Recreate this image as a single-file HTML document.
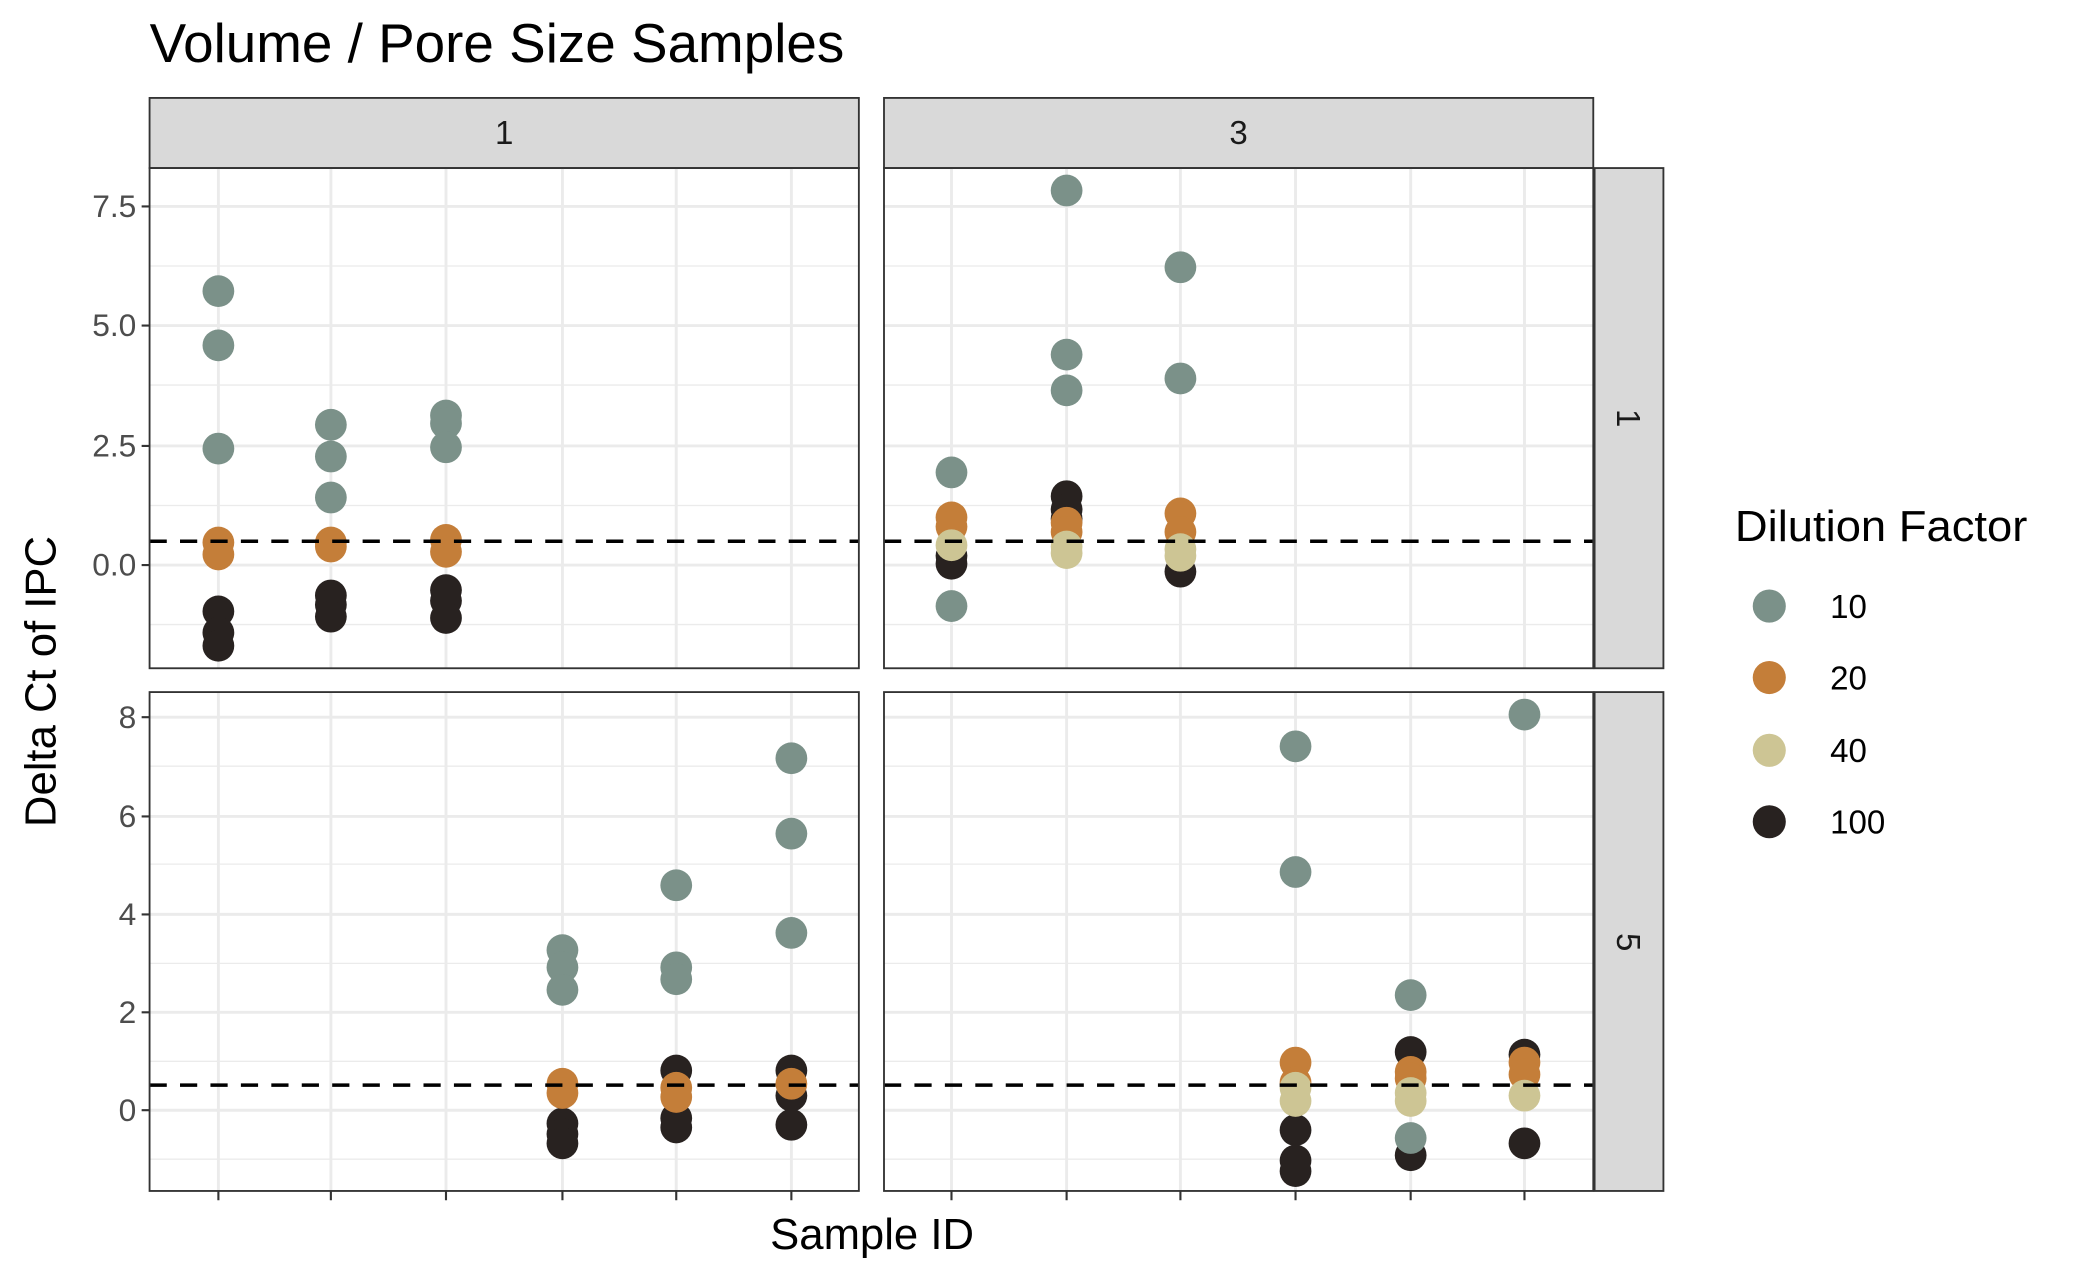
<!DOCTYPE html>
<html><head><meta charset="utf-8"><style>
html,body{margin:0;padding:0;background:#fff;}
svg{display:block;font-family:"Liberation Sans",Arial,sans-serif;}
</style></head><body>
<svg width="2075" height="1282" viewBox="0 0 1568 968.8" xmlns="http://www.w3.org/2000/svg">
<rect width="1568" height="969" fill="#fff"/>
<text x="113" y="47" font-size="41" fill="#000" textLength="525" lengthAdjust="spacingAndGlyphs">Volume / Pore Size Samples</text>

<!-- strips -->
<rect x="113" y="74" width="536" height="53" fill="#d9d9d9" stroke="#333" stroke-width="1.4"/>
<rect x="668" y="74" width="536" height="53" fill="#d9d9d9" stroke="#333" stroke-width="1.4"/>
<text x="381" y="109" font-size="25" text-anchor="middle" fill="#1a1a1a">1</text>
<text x="936" y="109" font-size="25" text-anchor="middle" fill="#1a1a1a">3</text>
<rect x="1205" y="127" width="52" height="378" fill="#d9d9d9" stroke="#333" stroke-width="1.4"/>
<rect x="1205" y="523" width="52" height="377" fill="#d9d9d9" stroke="#333" stroke-width="1.4"/>
<text transform="translate(1222,316) rotate(90)" font-size="25" text-anchor="middle" fill="#1a1a1a">1</text>
<text transform="translate(1222,712) rotate(90)" font-size="25" text-anchor="middle" fill="#1a1a1a">5</text>

<!-- grid -->
<g stroke="#ebebeb">
<g stroke-width="1">
<line x1="113" x2="649" y1="472" y2="472"/><line x1="113" x2="649" y1="382" y2="382"/><line x1="113" x2="649" y1="291" y2="291"/><line x1="113" x2="649" y1="201" y2="201"/>
<line x1="668" x2="1204" y1="472" y2="472"/><line x1="668" x2="1204" y1="382" y2="382"/><line x1="668" x2="1204" y1="291" y2="291"/><line x1="668" x2="1204" y1="201" y2="201"/>
<line x1="113" x2="649" y1="876" y2="876"/><line x1="113" x2="649" y1="802" y2="802"/><line x1="113" x2="649" y1="728" y2="728"/><line x1="113" x2="649" y1="653" y2="653"/><line x1="113" x2="649" y1="579" y2="579"/>
<line x1="668" x2="1204" y1="876" y2="876"/><line x1="668" x2="1204" y1="802" y2="802"/><line x1="668" x2="1204" y1="728" y2="728"/><line x1="668" x2="1204" y1="653" y2="653"/><line x1="668" x2="1204" y1="579" y2="579"/>
</g>
<g stroke-width="2.2">
<line x1="113" x2="649" y1="156" y2="156"/><line x1="113" x2="649" y1="246" y2="246"/><line x1="113" x2="649" y1="337" y2="337"/><line x1="113" x2="649" y1="427" y2="427"/>
<line x1="668" x2="1204" y1="156" y2="156"/><line x1="668" x2="1204" y1="246" y2="246"/><line x1="668" x2="1204" y1="337" y2="337"/><line x1="668" x2="1204" y1="427" y2="427"/>
<line x1="113" x2="649" y1="542" y2="542"/><line x1="113" x2="649" y1="617" y2="617"/><line x1="113" x2="649" y1="691" y2="691"/><line x1="113" x2="649" y1="765" y2="765"/><line x1="113" x2="649" y1="839" y2="839"/>
<line x1="668" x2="1204" y1="542" y2="542"/><line x1="668" x2="1204" y1="617" y2="617"/><line x1="668" x2="1204" y1="691" y2="691"/><line x1="668" x2="1204" y1="765" y2="765"/><line x1="668" x2="1204" y1="839" y2="839"/>
<path d="M165 127V505M250 127V505M337 127V505M425 127V505M511 127V505M598 127V505M719 127V505M806 127V505M892 127V505M979 127V505M1066 127V505M1152 127V505"/>
<path d="M165 523V900M250 523V900M337 523V900M425 523V900M511 523V900M598 523V900M719 523V900M806 523V900M892 523V900M979 523V900M1066 523V900M1152 523V900"/>
</g>
</g>

<!-- points -->
<g fill="#7b9189">
<circle cx="165" cy="220" r="12"/><circle cx="165" cy="261" r="12"/><circle cx="165" cy="339" r="12"/>
<circle cx="250" cy="321" r="12"/><circle cx="250" cy="345" r="12"/><circle cx="250" cy="376" r="12"/>
<circle cx="337" cy="314" r="12"/><circle cx="337" cy="320" r="12"/><circle cx="337" cy="338" r="12"/>
<circle cx="719" cy="357" r="12"/><circle cx="719" cy="458" r="12"/>
<circle cx="806" cy="144" r="12"/><circle cx="806" cy="268" r="12"/><circle cx="806" cy="295" r="12"/>
<circle cx="892" cy="202" r="12"/><circle cx="892" cy="286" r="12"/>
<circle cx="425" cy="718" r="12"/><circle cx="425" cy="731" r="12"/><circle cx="425" cy="748" r="12"/>
<circle cx="511" cy="669" r="12"/><circle cx="511" cy="731" r="12"/><circle cx="511" cy="740" r="12"/>
<circle cx="598" cy="573" r="12"/><circle cx="598" cy="630" r="12"/><circle cx="598" cy="705" r="12"/>
<circle cx="979" cy="564" r="12"/><circle cx="979" cy="659" r="12"/>
<circle cx="1066" cy="752" r="12"/>
<circle cx="1152" cy="540" r="12"/>
</g>
<g fill="#282220">
<circle cx="165" cy="462" r="12"/><circle cx="165" cy="478" r="12"/><circle cx="165" cy="488" r="12"/>
<circle cx="250" cy="450" r="12"/><circle cx="250" cy="457" r="12"/><circle cx="250" cy="466" r="12"/>
<circle cx="337" cy="446" r="12"/><circle cx="337" cy="454" r="12"/><circle cx="337" cy="467" r="12"/>
<circle cx="719" cy="420" r="12"/><circle cx="719" cy="426" r="12"/>
<circle cx="806" cy="375" r="12"/><circle cx="806" cy="385" r="12"/><circle cx="806" cy="392" r="12"/>
<circle cx="892" cy="432" r="12"/>
<circle cx="425" cy="849" r="12"/><circle cx="425" cy="857" r="12"/><circle cx="425" cy="864" r="12"/>
<circle cx="511" cy="809" r="12"/><circle cx="511" cy="845" r="12"/><circle cx="511" cy="852" r="12"/>
<circle cx="598" cy="809" r="12"/><circle cx="598" cy="828" r="12"/><circle cx="598" cy="850" r="12"/>
<circle cx="979" cy="854" r="12"/><circle cx="979" cy="877" r="12"/><circle cx="979" cy="885" r="12"/>
<circle cx="1066" cy="795" r="12"/><circle cx="1066" cy="873" r="12"/>
<circle cx="1152" cy="797" r="12"/><circle cx="1152" cy="864" r="12"/>
</g>
<circle cx="1066" cy="860" r="12" fill="#7b9189"/>
<g fill="#c47e39">
<circle cx="165" cy="410" r="12"/><circle cx="165" cy="419" r="12"/>
<circle cx="250" cy="410" r="12"/><circle cx="250" cy="413" r="12"/>
<circle cx="337" cy="408" r="12"/><circle cx="337" cy="417" r="12"/>
<circle cx="719" cy="391" r="12"/><circle cx="719" cy="398" r="12"/>
<circle cx="806" cy="395" r="12"/><circle cx="806" cy="402" r="12"/>
<circle cx="892" cy="388" r="12"/><circle cx="892" cy="402" r="12"/>
<circle cx="425" cy="819" r="12"/><circle cx="425" cy="826" r="12"/>
<circle cx="511" cy="822" r="12"/><circle cx="511" cy="829" r="12"/>
<circle cx="598" cy="819" r="12"/>
<circle cx="979" cy="803" r="12"/><circle cx="979" cy="818" r="12"/>
<circle cx="1066" cy="810" r="12"/><circle cx="1066" cy="815" r="12"/>
<circle cx="1152" cy="803" r="12"/><circle cx="1152" cy="812" r="12"/>
</g>
<g fill="#cdc594">
<circle cx="719" cy="412" r="12"/>
<circle cx="806" cy="413" r="12"/><circle cx="806" cy="418" r="12"/>
<circle cx="892" cy="415" r="12"/><circle cx="892" cy="420" r="12"/>
<circle cx="979" cy="822" r="12"/><circle cx="979" cy="832" r="12"/>
<circle cx="1066" cy="826" r="12"/><circle cx="1066" cy="832" r="12"/>
<circle cx="1152" cy="828" r="12"/>
</g>

<!-- dashed lines -->
<g stroke="#000" stroke-width="2.6" stroke-dasharray="13,10">
<line x1="113" x2="649" y1="409" y2="409"/><line x1="668" x2="1204" y1="409" y2="409"/>
<line x1="113" x2="649" y1="820" y2="820"/><line x1="668" x2="1204" y1="820" y2="820"/>
</g>

<!-- panel borders -->
<g fill="none" stroke="#333" stroke-width="1.4">
<rect x="113" y="127" width="536" height="378"/><rect x="668" y="127" width="536" height="378"/>
<rect x="113" y="523" width="536" height="377"/><rect x="668" y="523" width="536" height="377"/>
</g>

<!-- ticks -->
<g stroke="#333" stroke-width="1.6">
<path d="M107 156H113M107 246H113M107 337H113M107 427H113M107 542H113M107 617H113M107 691H113M107 765H113M107 839H113"/>
<path d="M165 900V907M250 900V907M337 900V907M425 900V907M511 900V907M598 900V907M719 900V907M806 900V907M892 900V907M979 900V907M1066 900V907M1152 900V907"/>
</g>
<g font-size="24" fill="#4d4d4d" text-anchor="end">
<text x="103" y="164">7.5</text><text x="103" y="254">5.0</text><text x="103" y="345">2.5</text><text x="103" y="435">0.0</text>
<text x="103" y="550">8</text><text x="103" y="625">6</text><text x="103" y="699">4</text><text x="103" y="773">2</text><text x="103" y="847">0</text>
</g>

<text x="659" y="944" font-size="33" text-anchor="middle" fill="#000">Sample ID</text>
<text transform="translate(42,515) rotate(-90)" font-size="33" text-anchor="middle" fill="#000">Delta Ct of IPC</text>

<!-- legend -->
<text x="1311" y="409" font-size="33" fill="#000" textLength="221" lengthAdjust="spacingAndGlyphs">Dilution Factor</text>
<circle cx="1337" cy="458" r="12.5" fill="#7b9189"/>
<circle cx="1337" cy="512" r="12.5" fill="#c47e39"/>
<circle cx="1337" cy="567" r="12.5" fill="#cdc594"/>
<circle cx="1337" cy="621" r="12.5" fill="#282220"/>
<g font-size="25" fill="#000">
<text x="1383" y="467">10</text><text x="1383" y="521">20</text><text x="1383" y="576">40</text><text x="1383" y="630">100</text>
</g>
</svg>
</body></html>
